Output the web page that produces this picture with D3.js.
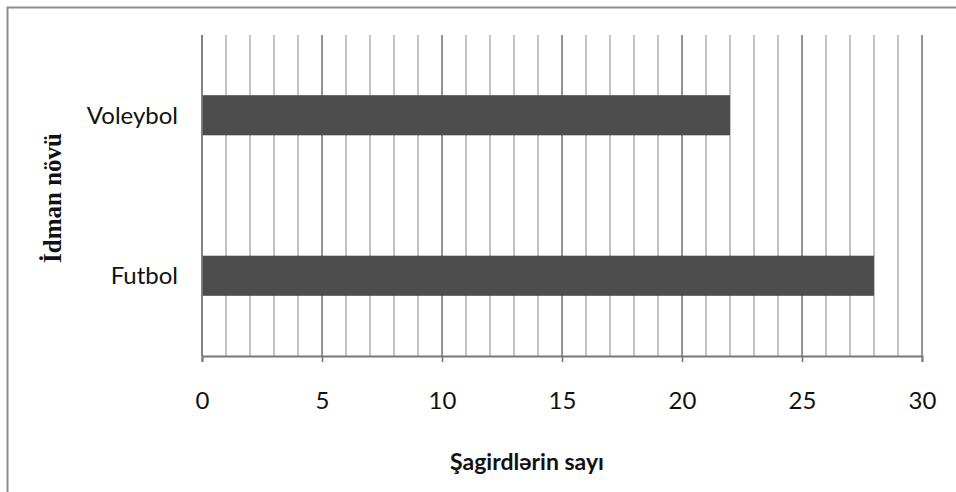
<!DOCTYPE html>
<html>
<head>
<meta charset="utf-8">
<script src="https://cdn.jsdelivr.net/npm/d3@7"></script>
<style>
  html, body { margin: 0; padding: 0; background: #fff; }
  svg { display: block; }
</style>
</head>
<body>
<svg id="chart" width="956" height="492"></svg>
<script>
// Sports and the number of pupils in each
const categories = ["Futbol", "Voleybol"];
const values = [28, 22];
const xTicks = [0, 5, 10, 15, 20, 25, 30];
const xTitle = "Şagirdlərin sayı";
const yTitle = "İdman növü";

const svg = d3.select("#chart");
const W = 956, H = 492;
const plot = { left: 202, right: 922, top: 35, bottom: 356 };
const sans = "Lato, 'Open Sans', sans-serif";

// Chart frame
svg.append("rect")
  .attr("x", 7.5).attr("y", 7.5)
  .attr("width", W + 20).attr("height", H + 20)
  .attr("fill", "#fff")
  .attr("stroke", "#8c8c8c").attr("stroke-width", 2);

const x = d3.scaleLinear().domain([0, 30]).range([plot.left, plot.right]);
const y = d3.scaleBand()
  .domain(categories)
  .range([plot.bottom, plot.top])
  .paddingInner(0.75)
  .paddingOuter(0.375);

// Vertical gridlines, one per unit; every fifth is darker
const grid = d3.range(1, 31);
svg.append("g").selectAll("line")
  .data(grid)
  .join("line")
  .attr("x1", d => x(d)).attr("x2", d => x(d))
  .attr("y1", plot.top).attr("y2", plot.bottom)
  .attr("stroke", d => d % 5 === 0 ? "#777" : "#b4b4b4")
  .attr("stroke-width", 1.6);

// Bars
svg.append("g").selectAll("rect")
  .data(categories.map((c, i) => ({ c, v: values[i] })))
  .join("rect")
  .attr("x", x(0))
  .attr("y", d => y(d.c))
  .attr("width", d => x(d.v) - x(0))
  .attr("height", y.bandwidth())
  .attr("fill", "#4d4d4d");

// Category axis line
svg.append("line")
  .attr("x1", x(0)).attr("x2", x(0))
  .attr("y1", plot.top).attr("y2", plot.bottom)
  .attr("stroke", "#777").attr("stroke-width", 1.8);

// Value axis
const xAxis = d3.axisBottom(x).tickValues(xTicks).tickSize(6).tickPadding(30);
const gx = svg.append("g")
  .attr("transform", `translate(0,${plot.bottom})`)
  .call(xAxis);
gx.select(".domain").attr("stroke", "#777").attr("stroke-width", 1.8);
gx.selectAll(".tick line").attr("stroke", "#777").attr("stroke-width", 1.6);
gx.selectAll(".tick text")
  .attr("fill", "#111")
  .style("font-family", sans)
  .style("font-size", "24px");

// Category labels
svg.append("g").selectAll("text")
  .data(categories)
  .join("text")
  .attr("x", 178)
  .attr("y", d => y(d) + y.bandwidth() / 2)
  .attr("dy", "0.35em")
  .attr("text-anchor", "end")
  .attr("fill", "#111")
  .style("font-family", sans)
  .style("font-size", "24px")
  .text(d => d);

// Axis titles
svg.append("text")
  .attr("x", 527).attr("y", 470)
  .attr("text-anchor", "middle")
  .attr("fill", "#111")
  .style("font-family", sans)
  .style("font-weight", "bold")
  .style("font-size", "23px")
  .text(xTitle);

svg.append("text")
  .attr("transform", "translate(61,198) rotate(-90)")
  .attr("text-anchor", "middle")
  .attr("fill", "#111")
  .style("font-family", "'Liberation Serif', 'Times New Roman', serif")
  .style("font-weight", "bold")
  .style("font-size", "25px")
  .text(yTitle);
</script>
</body>
</html>
